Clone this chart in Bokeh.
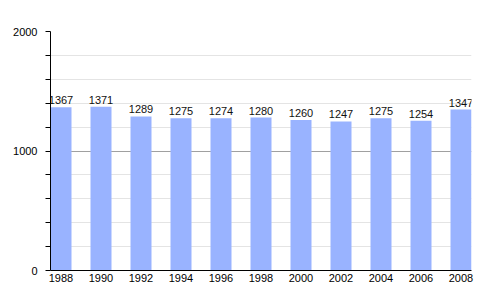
from bokeh.plotting import figure
from bokeh.models import ColumnDataSource, FixedTicker, Range1d
from bokeh.core.properties import value
from bokeh.embed import file_html
from bokeh.resources import INLINE

years = ["1988", "1990", "1992", "1994", "1996", "1998", "2000", "2002", "2004", "2006", "2008"]
population = [1367, 1371, 1289, 1275, 1274, 1280, 1260, 1247, 1275, 1254, 1347]
y_major = [0, 1000, 2000]
y_minor = [200, 400, 600, 800, 1200, 1400, 1600, 1800]

idx = list(range(len(years)))
src = ColumnDataSource(dict(x=idx, y=population, lbl=[str(v) for v in population]))

FONT = "Liberation Sans"
p = figure(width=500, height=300, output_backend="svg", toolbar_location=None,
           x_range=Range1d(-0.2625, len(years) - 1 + 0.2625), y_range=Range1d(0, 2000),
           min_border_left=50, min_border_right=29, min_border_top=31, min_border_bottom=30)
p.outline_line_color = None
p.background_fill_color = "white"

p.vbar(x="x", top="y", width=0.525, source=src, fill_color="#99b3ff", line_color=None)
p.text(x="x", y="y", text="lbl", source=src, text_align="center", text_baseline="bottom",
       y_offset=-3, text_font=value(FONT), text_font_size="11px", text_color="#111111")

p.yaxis.ticker = FixedTicker(ticks=y_major, minor_ticks=y_minor)
p.yaxis.axis_line_color = "black"
p.yaxis.major_tick_out = 5
p.yaxis.major_tick_in = 0
p.yaxis.minor_tick_out = 5
p.yaxis.minor_tick_in = 0
p.yaxis.major_tick_line_color = "black"
p.yaxis.minor_tick_line_color = "black"
p.yaxis.major_label_text_font = FONT
p.yaxis.major_label_text_font_size = "11px"
p.yaxis.major_label_text_color = "black"
p.yaxis.major_label_standoff = 8

p.xaxis.ticker = FixedTicker(ticks=idx)
p.xaxis.major_label_overrides = {i: y for i, y in zip(idx, years)}
p.xaxis.axis_line_color = "black"
p.xaxis.major_tick_out = 0
p.xaxis.major_tick_in = 0
p.xaxis.minor_tick_line_color = None
p.xaxis.major_label_text_font = FONT
p.xaxis.major_label_text_font_size = "11px"
p.xaxis.major_label_text_color = "black"
p.xaxis.major_label_standoff = 3

p.xgrid.grid_line_color = None
p.ygrid.grid_line_color = "#a0a0a0"
p.ygrid.minor_grid_line_color = "#e4e4e4"

open("out.html", "w").write(file_html(p, INLINE))
